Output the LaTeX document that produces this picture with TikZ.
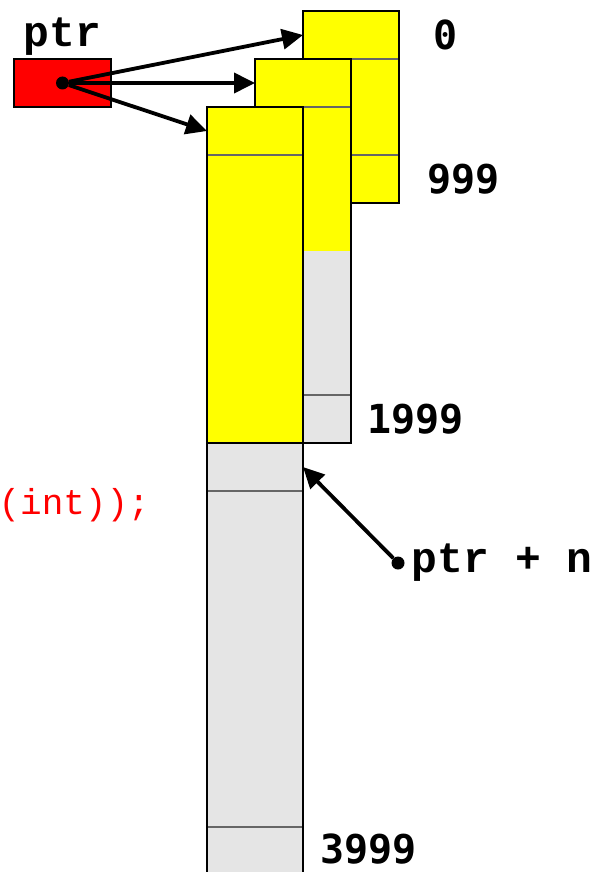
\documentclass[tikz,border=0pt]{standalone}
\usepackage{fontspec}
\newfontfamily\codefont{Liberation Mono}
\newfontfamily\numfont{DejaVu Sans Mono}
\usetikzlibrary{arrows.meta,positioning}
\definecolor{memyellow}{RGB}{255,255,0}
\definecolor{memgrey}{RGB}{229,229,229}
\definecolor{ptrred}{RGB}{255,0,0}

\begin{document}
\begin{tikzpicture}[
  x=1pt, y=-1pt,
  cell/.style={minimum width=96pt, inner sep=0pt, outer sep=0pt},
  yel/.style={cell, fill=memyellow},
  gry/.style={cell, fill=memgrey},
  frame/.style={draw=black, line width=2.2pt},
  divider/.style={draw=black!60, line width=1.5pt},
  arrow/.style={-{Triangle[length=21pt,width=20pt]}, line width=3.8pt},
  dot/.style={circle, fill=black, inner sep=0pt, minimum size=13pt},
  code/.style={font=\codefont\bfseries\fontsize{43}{43}\selectfont, inner sep=0pt},
  idx/.style={font=\numfont\bfseries\fontsize{40}{40}\selectfont, inner sep=0pt}
]
  \useasboundingbox (0,0) rectangle (593,872);

  % first block: 0 .. 999
  \node[yel, minimum height=48pt, anchor=north west] (a1) at (303,11) {};
  \node[yel, minimum height=96pt, below=0pt of a1] (a2) {};
  \node[yel, minimum height=48pt, below=0pt of a2] (a3) {};
  \draw[divider] (a1.south west) -- (a1.south east);
  \draw[divider] (a2.south west) -- (a2.south east);
  \draw[frame] (a1.north west) rectangle (a3.south east);

  % after realloc: 0 .. 1999
  \node[yel, minimum height=48pt, anchor=north west] (b1) at (255,59) {};
  \node[yel, minimum height=144pt, below=0pt of b1] (b2) {};
  \node[gry, minimum height=144pt, below=0pt of b2] (b3) {};
  \node[gry, minimum height=48pt, below=0pt of b3] (b4) {};
  \draw[divider] (b1.south west) -- (b1.south east);
  \draw[divider] (b3.south west) -- (b3.south east);
  \draw[frame] (b1.north west) rectangle (b4.south east);

  % after realloc: 0 .. 3999
  \node[yel, minimum height=48pt, anchor=north west] (c1) at (207,107) {};
  \node[yel, minimum height=288pt, below=0pt of c1] (c2) {};
  \node[gry, minimum height=48pt, below=0pt of c2] (c3) {};
  \node[gry, minimum height=336pt, below=0pt of c3] (c4) {};
  \node[gry, minimum height=48pt, below=0pt of c4] (c5) {};
  \draw[divider] (c1.south west) -- (c1.south east);
  \draw[divider] (c3.south west) -- (c3.south east);
  \draw[divider] (c4.south west) -- (c4.south east);
  \draw[frame] (c1.north west) rectangle (c5.south east);
  \draw[frame] (c2.south west) -- (c2.south east);

  % indices
  \node[idx, right=34pt of a1.east] (i0) {0};
  \node[idx, right=28pt of a3.east] (i999) {999};
  \node[idx, right=16pt of b4.east] (i1999) {1999};
  \node[idx, right=17pt of c5.east, yshift=2pt] (i3999) {3999};

  % the pointer
  \node[draw, fill=ptrred, line width=1.8pt, minimum width=97pt, minimum height=48pt, inner sep=0pt] (ptrbox) at (62.5,83) {};
  \node[code, above=2pt of ptrbox] (ptrlbl) {ptr};
  \node[dot] (pdot) at (ptrbox.center) {};
  \draw[arrow] (pdot) -- (a1.west);
  \draw[arrow] (pdot) -- (b1.west);
  \draw[arrow] (pdot) -- (c1.west);

  % ptr + n
  \node[dot] (ndot) at (398,563) {};
  \node[code, right=7pt of ndot] (nlbl) {ptr + n};
  \draw[arrow] (ndot) -- (c3.east);

  \node[font=\codefont\fontsize{36}{36}\selectfont, text=ptrred, inner sep=0pt, anchor=east] (call) at (150,505) {(int));};
\end{tikzpicture}
\end{document}
